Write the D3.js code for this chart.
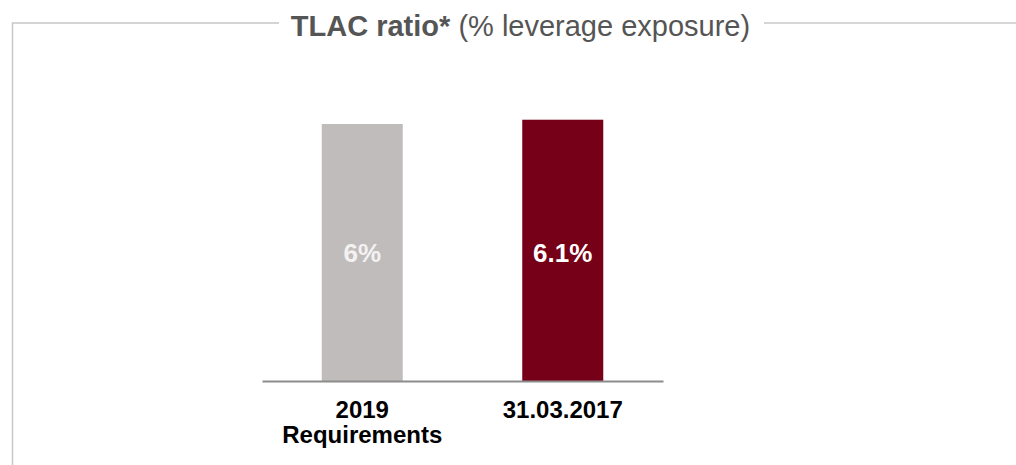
<!DOCTYPE html>
<html>
<head>
<meta charset="utf-8">
<script src="https://cdn.jsdelivr.net/npm/d3@7"></script>
<style>
  body { margin: 0; background: #fff; }
  svg { display: block; font-family: "Liberation Sans", Arial, sans-serif; }
</style>
</head>
<body>
<script>
// Data
var categories = ["2019|Requirements", "31.03.2017"];
var values = [6, 6.1];
var valueLabels = ["6%", "6.1%"];
var barColors = ["#c0bcbb", "#750017"];
var labelColors = ["#f3f2f2", "#ffffff"];

var width = 1016, height = 465;

var svg = d3.select("body").append("svg")
    .attr("width", width)
    .attr("height", height);

// Scales
var x = d3.scaleBand()
    .domain(categories)
    .range([262, 663])
    .paddingInner(0.596)
    .paddingOuter(0.298);

var y = d3.scaleLinear()
    .domain([0, 6])
    .range([381, 124]);

// Frame round the chart (with a gap for the title)
var frame = svg.append("g")
    .attr("fill", "none")
    .attr("stroke", "#c9c8c8")
    .attr("stroke-width", 1.5);
frame.append("path").attr("d", "M279,23 H12.5 V465");
frame.append("path").attr("d", "M764,23 H1016");

// Title
var title = svg.append("text")
    .attr("x", 520.5)
    .attr("y", 36)
    .attr("text-anchor", "middle")
    .attr("font-size", 29)
    .attr("fill", "#555555");
title.append("tspan").attr("font-weight", "bold").text("TLAC ratio*");
title.append("tspan").text(" (% leverage exposure)");

// Bars
svg.selectAll(".bar")
    .data(categories)
    .enter().append("rect")
    .attr("class", "bar")
    .attr("x", function(d){ return x(d); })
    .attr("width", x.bandwidth())
    .attr("y", function(d, i){ return y(values[i]); })
    .attr("height", function(d, i){ return y(0) - y(values[i]); })
    .attr("fill", function(d, i){ return barColors[i]; });

// Value labels inside the bars
svg.selectAll(".val")
    .data(categories)
    .enter().append("text")
    .attr("class", "val")
    .attr("x", function(d){ return x(d) + x.bandwidth() / 2; })
    .attr("y", 262)
    .attr("text-anchor", "middle")
    .attr("font-size", 26)
    .attr("font-weight", "bold")
    .attr("fill", function(d, i){ return labelColors[i]; })
    .text(function(d, i){ return valueLabels[i]; });

// Baseline axis
var xAxis = d3.axisBottom(x).tickSize(0).tickFormat("");
var axisG = svg.append("g")
    .attr("transform", "translate(0," + y(0) + ")")
    .call(xAxis);
axisG.select(".domain").attr("stroke", "#8c8c8c").attr("stroke-width", 2);

// Category labels (two lines where needed)
svg.selectAll(".cat")
    .data(categories)
    .enter().append("text")
    .attr("class", "cat")
    .attr("text-anchor", "middle")
    .attr("font-size", 24)
    .attr("font-weight", "bold")
    .attr("fill", "#000")
    .each(function(d){
        var t = d3.select(this);
        d.split("|").forEach(function(line, k){
            t.append("tspan")
                .attr("x", x(d) + x.bandwidth() / 2)
                .attr("y", 418 + k * 25)
                .text(line);
        });
    });
</script>
</body>
</html>
